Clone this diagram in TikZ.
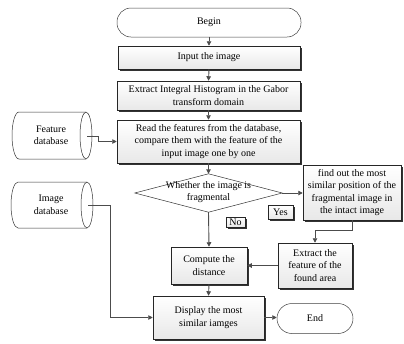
\documentclass[tikz,border=0pt]{standalone}
\usepackage{fontspec}
\setmainfont{Liberation Serif}
\usetikzlibrary{shadows,arrows.meta,calc}
\newcommand\myfs{\fontsize{10}{12.5}\selectfont}
\begin{document}
\begin{tikzpicture}[x=1pt,y=-1pt,
  box/.style={draw=black!85, line width=0.5pt, top color=white, bottom color=black!9,
    drop shadow={shadow xshift=1.7pt, shadow yshift=-1.7pt, fill=black!80, opacity=1},
    inner sep=0.5pt, align=center, font=\myfs},
  term/.style={draw=black!75, line width=0.5pt, fill=white, rounded corners=14pt,
    align=center, font=\myfs, inner sep=1pt},
  lbl/.style={box, inner sep=0.5pt},
  conn/.style={draw=black!70, line width=0.9pt, -{Triangle[length=4.5pt,width=4.5pt]}},
  cyl/.style={draw=black!80, line width=0.5pt, fill=white},
  txt/.style={font=\myfs, align=center, inner sep=0pt}]
\useasboundingbox (0,0) rectangle (404,343);

% terminators and boxes
\node[term, minimum width=184pt, minimum height=29pt] (begin) at (209,22.5) {Begin};
\node[box, minimum width=182pt, minimum height=23pt] (input) at (209,57.5) {Input the image};
\node[box, minimum width=183pt, minimum height=29pt] (extract) at (208.5,95.5) {Extract Integral Histogram in the Gabor\\transform domain};
\node[box, minimum width=183pt, minimum height=43pt] (read) at (208.5,141.5) {Read the features from the database,\\compare them with the feature of the\\input image one by one};

% decision
\node[minimum width=147pt, minimum height=38pt, inner sep=0pt] (dec) at (208.5,193) {};
\draw[draw=black!80, line width=0.5pt, fill=white] (dec.west) -- (dec.north) -- (dec.east) -- (dec.south) -- cycle;
\node[txt] (dectext) at (208.5,192) {Whether the image is\\fragmental};

\node[box, minimum width=98pt, minimum height=55pt] (find) at (352,192.5) {find out the most\\similar position of the\\fragmental image in\\the intact image};
\node[lbl, minimum width=25pt, minimum height=14pt] (yes) at (280.5,212) {Yes};
\node[lbl, minimum width=19pt, minimum height=10pt] (no) at (235.5,222) {No};

\node[box, minimum width=76pt, minimum height=37pt] (compute) at (209,265.5) {Compute the\\distance};
\node[box, minimum width=74pt, minimum height=45pt] (extf) at (315,265.5) {Extract the\\feature of the\\found area};
\node[box, minimum width=111pt, minimum height=43pt] (display) at (208.5,317.5) {Display the most\\similar iamges};
\node[term, minimum width=76pt, minimum height=30pt, rounded corners=15pt] (end) at (315,318.5) {End};

% cylinders
\draw[cyl] (19,112) -- (86,112) arc[start angle=-90, end angle=90, x radius=6, y radius=23.5]
  -- (19,159) arc[start angle=90, end angle=270, x radius=7, y radius=23.5] -- cycle;
\draw[cyl, fill=none] (86,112) arc[start angle=-90, end angle=-270, x radius=6, y radius=23.5];
\node[txt] (fdb) at (51,135.5) {Feature\\database};
\coordinate (fdbout) at (87,136);

\draw[cyl] (18,182) -- (87,182) arc[start angle=-90, end angle=90, x radius=6, y radius=23]
  -- (18,228) arc[start angle=90, end angle=270, x radius=7, y radius=23] -- cycle;
\draw[cyl, fill=none] (87,182) arc[start angle=-90, end angle=-270, x radius=6, y radius=23];
\node[txt] (idb) at (51,205) {Image\\database};
\coordinate (idbout) at (88,205);

% connectors
\draw[conn] (begin.south) -- (input.north);
\draw[conn] (input.south) -- (extract.north);
\draw[conn] (extract.south) -- (read.north);
\draw[conn] (read.south) -- (dec.north);
\draw[conn] (dec.east) -- (find.west |- dec.east);
\draw[conn] (dec.south) -- (compute.north);
\draw[conn] (find.south) -- ++(0,10) -| (extf.north);
\draw[conn] (extf.west) -- (compute.east);
\draw[conn] (compute.south) -- (display.north);
\draw[conn] (display.east) -- (end.west |- display.east);
\draw[conn] (fdbout) -- ++(11,0) |- (read.west);
\draw[conn] (idbout) -- ++(22,0) |- (display.west);
\end{tikzpicture}
\end{document}
